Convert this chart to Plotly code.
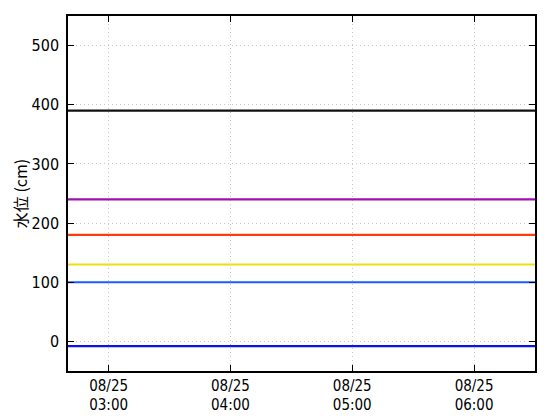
import plotly.graph_objects as go

x_start = "2024-08-25 02:40"
x_end = "2024-08-25 06:30"
tick_vals = ["2024-08-25 03:00", "2024-08-25 04:00", "2024-08-25 05:00", "2024-08-25 06:00"]
tick_text = ["08/25<br>03:00", "08/25<br>04:00", "08/25<br>05:00", "08/25<br>06:00"]

level_names = ["level_black", "level_purple", "level_red", "level_yellow", "level_blue", "level_zero"]
level_values = [390, 240, 180, 130, 100, -8]
level_colors = ["#111111", "#a010b0", "#ff3a10", "#eee010", "#1a5cff", "#0a10ee"]

y_ticks = [0, 100, 200, 300, 400, 500]

fig = go.Figure()
for name, val, col in zip(level_names, level_values, level_colors):
    fig.add_trace(go.Scatter(x=[x_start, x_end], y=[val, val], mode="lines",
                             line=dict(color=col, width=2.2), name=name, showlegend=False,
                             hoverinfo="skip"))

font_family = "Liberation Sans Narrow, DejaVu Sans Condensed, Noto Sans CJK JP, sans-serif"
fig.update_layout(
    width=560, height=420,
    margin=dict(l=60, r=33, t=8, b=57),
    paper_bgcolor="white", plot_bgcolor="white",
    font=dict(family=font_family, size=15, color="black"),
    showlegend=False,
)
grid_style = dict(showgrid=True, gridcolor="#c8c8c8", griddash="1px,3px", gridwidth=1)
fig.update_xaxes(
    type="date", range=[x_start, x_end],
    tickvals=tick_vals, ticktext=tick_text,
    ticks="inside", ticklen=6, tickcolor="black", tickwidth=1,
    showline=True, linecolor="black", linewidth=1.5, mirror="allticks",
    tickfont=dict(size=15), zeroline=False, automargin=False, **grid_style,
)
fig.update_yaxes(
    range=[-50, 550], tickvals=y_ticks,
    ticks="inside", ticklen=6, tickcolor="black", tickwidth=1,
    showline=True, linecolor="black", linewidth=1.5, mirror="allticks",
    zeroline=False, tickfont=dict(size=16), ticklabelstandoff=4, automargin=False,
    title=dict(text="水位 (cm)", font=dict(size=16, family="Noto Sans CJK JP, sans-serif"), standoff=18),
    **grid_style,
)
fig.write_html("out.html")
